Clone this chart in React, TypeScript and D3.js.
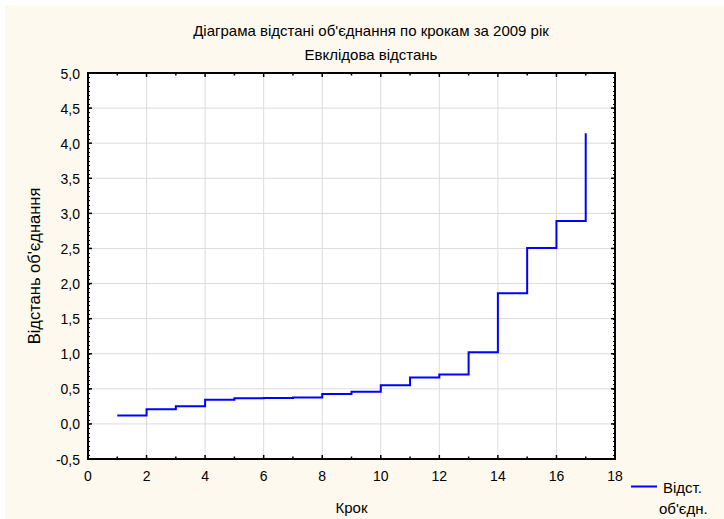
import React, { useRef, useEffect } from "react";
import * as d3 from "d3";

const fontFamily = "'Liberation Sans', Arial, sans-serif";

// крок / відстань об'єднання
const steps = [1, 2, 3, 4, 5, 6, 7, 8, 9, 10, 11, 12, 13, 14, 15, 16, 17];
const distances = [0.12, 0.21, 0.25, 0.345, 0.365, 0.37, 0.375, 0.425, 0.46, 0.55, 0.66, 0.705, 1.02, 1.86, 2.505, 2.89, 4.14];

const xTicks = [0, 2, 4, 6, 8, 10, 12, 14, 16, 18];
const yTicks = [-0.5, 0, 0.5, 1, 1.5, 2, 2.5, 3, 3.5, 4, 4.5, 5];

const title1 = "Діаграма відстані об'єднання по крокам за 2009 рік";
const title2 = "Евклідова відстань";
const xTitle = "Крок";
const yTitle = "Відстань об'єднання";
const legendLines = ["Відст.", "об'єдн."];

export default function App() {
  const ref = useRef<SVGSVGElement>(null);
  const width = 724;
  const height = 519;

  useEffect(() => {
    const margin = { top: 73, left: 88, right: 109, bottom: 60 };
    const plotW = width - margin.left - margin.right;
    const plotH = height - margin.top - margin.bottom;

    const svg = d3.select(ref.current);
    svg.selectAll("*").remove();

    // фон
    svg.append("rect").attr("width", width).attr("height", height).attr("fill", "#fff");
    svg.append("rect")
      .attr("x", 5).attr("y", 5)
      .attr("width", width - 5).attr("height", height - 5)
      .attr("fill", "#FEF9EE");

    const x = d3.scaleLinear().domain([0, 18]).range([margin.left, margin.left + plotW]);
    const y = d3.scaleLinear().domain([-0.5, 5]).range([margin.top + plotH, margin.top]);
    const fmt = (v: number) => d3.format(".1f")(v).replace(".", ",").replace("−", "-");

    // plot area
    svg.append("rect")
      .attr("x", x(0)).attr("y", y(5))
      .attr("width", plotW).attr("height", plotH)
      .attr("fill", "#fff");

    // сітка
    svg.append("g")
      .selectAll("line")
      .data(xTicks.slice(1, -1))
      .join("line")
      .attr("x1", d => x(d)).attr("x2", d => x(d))
      .attr("y1", y(5)).attr("y2", y(-0.5))
      .attr("stroke", "#dcdcdc").attr("stroke-width", 1);
    svg.append("g")
      .selectAll("line")
      .data(yTicks.slice(1, -1))
      .join("line")
      .attr("x1", x(0)).attr("x2", x(18))
      .attr("y1", d => y(d)).attr("y2", d => y(d))
      .attr("stroke", "#dcdcdc").attr("stroke-width", 1);

    // мінорні та основні засічки
    const yMinor = d3.range(-0.5, 5.0001, 0.0625);
    const xMinor = d3.range(0, 18.0001, 1);
    const tickG = svg.append("g").attr("stroke", "#000").attr("stroke-width", 1);
    tickG.selectAll("line.ylm")
      .data(yMinor)
      .join("line")
      .attr("x1", x(0)).attr("x2", x(0) + 2)
      .attr("y1", d => Math.round(y(d)) + 0.5).attr("y2", d => Math.round(y(d)) + 0.5);
    tickG.selectAll("line.yrm")
      .data(yMinor)
      .join("line")
      .attr("x1", x(18)).attr("x2", x(18) - 2)
      .attr("y1", d => Math.round(y(d)) + 0.5).attr("y2", d => Math.round(y(d)) + 0.5);
    tickG.selectAll("line.yl")
      .data(yTicks)
      .join("line")
      .attr("x1", x(0)).attr("x2", x(0) + 4)
      .attr("y1", d => y(d)).attr("y2", d => y(d))
      .attr("stroke-width", 1.5);
    tickG.selectAll("line.yr")
      .data(yTicks)
      .join("line")
      .attr("x1", x(18)).attr("x2", x(18) - 4)
      .attr("y1", d => y(d)).attr("y2", d => y(d))
      .attr("stroke-width", 1.5);
    tickG.selectAll("line.xt")
      .data(xMinor)
      .join("line")
      .attr("x1", d => x(d)).attr("x2", d => x(d))
      .attr("y1", y(5)).attr("y2", d => y(5) + (d % 2 === 0 ? 4 : 2.5))
      .attr("stroke-width", 1.5);
    tickG.selectAll("line.xb")
      .data(xMinor)
      .join("line")
      .attr("x1", d => x(d)).attr("x2", d => x(d))
      .attr("y1", y(-0.5)).attr("y2", d => y(-0.5) - (d % 2 === 0 ? 4 : 2.5))
      .attr("stroke-width", 1.5);

    // рамка
    svg.append("rect")
      .attr("x", x(0)).attr("y", y(5))
      .attr("width", plotW).attr("height", plotH)
      .attr("fill", "none")
      .attr("stroke", "#000").attr("stroke-width", 2);

    // лінія
    const line = d3.line<number>()
      .x((d, i) => x(steps[i]))
      .y(d => y(d))
      .curve(d3.curveStepAfter);
    svg.append("path")
      .datum(distances)
      .attr("d", line)
      .attr("fill", "none")
      .attr("stroke", "#0000FF")
      .attr("stroke-width", 2);

    const textG = svg.append("g")
      .attr("font-family", fontFamily)
      .attr("fill", "#000");

    // підписи осей
    textG.selectAll("text.yt")
      .data(yTicks)
      .join("text")
      .attr("x", x(0) - 8)
      .attr("y", d => y(d) + 5.5)
      .attr("font-size", 14)
      .attr("text-anchor", "end")
      .text(d => fmt(d));
    textG.selectAll("text.xt")
      .data(xTicks)
      .join("text")
      .attr("x", d => x(d))
      .attr("y", y(-0.5) + 21.5)
      .attr("font-size", 14)
      .attr("text-anchor", "middle")
      .text(d => String(d));

    // заголовки
    textG.append("text")
      .attr("x", 371).attr("y", 36)
      .attr("font-size", 15)
      .attr("text-anchor", "middle")
      .text(title1);
    textG.append("text")
      .attr("x", 371).attr("y", 60)
      .attr("font-size", 15)
      .attr("text-anchor", "middle")
      .text(title2);
    textG.append("text")
      .attr("x", x(9)).attr("y", 513)
      .attr("font-size", 15)
      .attr("text-anchor", "middle")
      .text(xTitle);
    textG.append("text")
      .attr("transform", `translate(39.5,${(y(5) + y(-0.5)) / 2}) rotate(-90)`)
      .attr("font-size", 16.5)
      .attr("text-anchor", "middle")
      .text(yTitle);

    // легенда
    svg.append("line")
      .attr("x1", 631).attr("x2", 657)
      .attr("y1", 486.5).attr("y2", 486.5)
      .attr("stroke", "#0000FF").attr("stroke-width", 2);
    textG.append("text").attr("x", 663).attr("y", 493).attr("font-size", 15).text(legendLines[0]);
    textG.append("text").attr("x", 659).attr("y", 514).attr("font-size", 15).text(legendLines[1]);
  }, []);

  return (
    <div style={{ position: "absolute", left: 0, top: 0 }}>
      <svg ref={ref} width={width} height={height} style={{ display: "block" }}></svg>
    </div>
  );
}
